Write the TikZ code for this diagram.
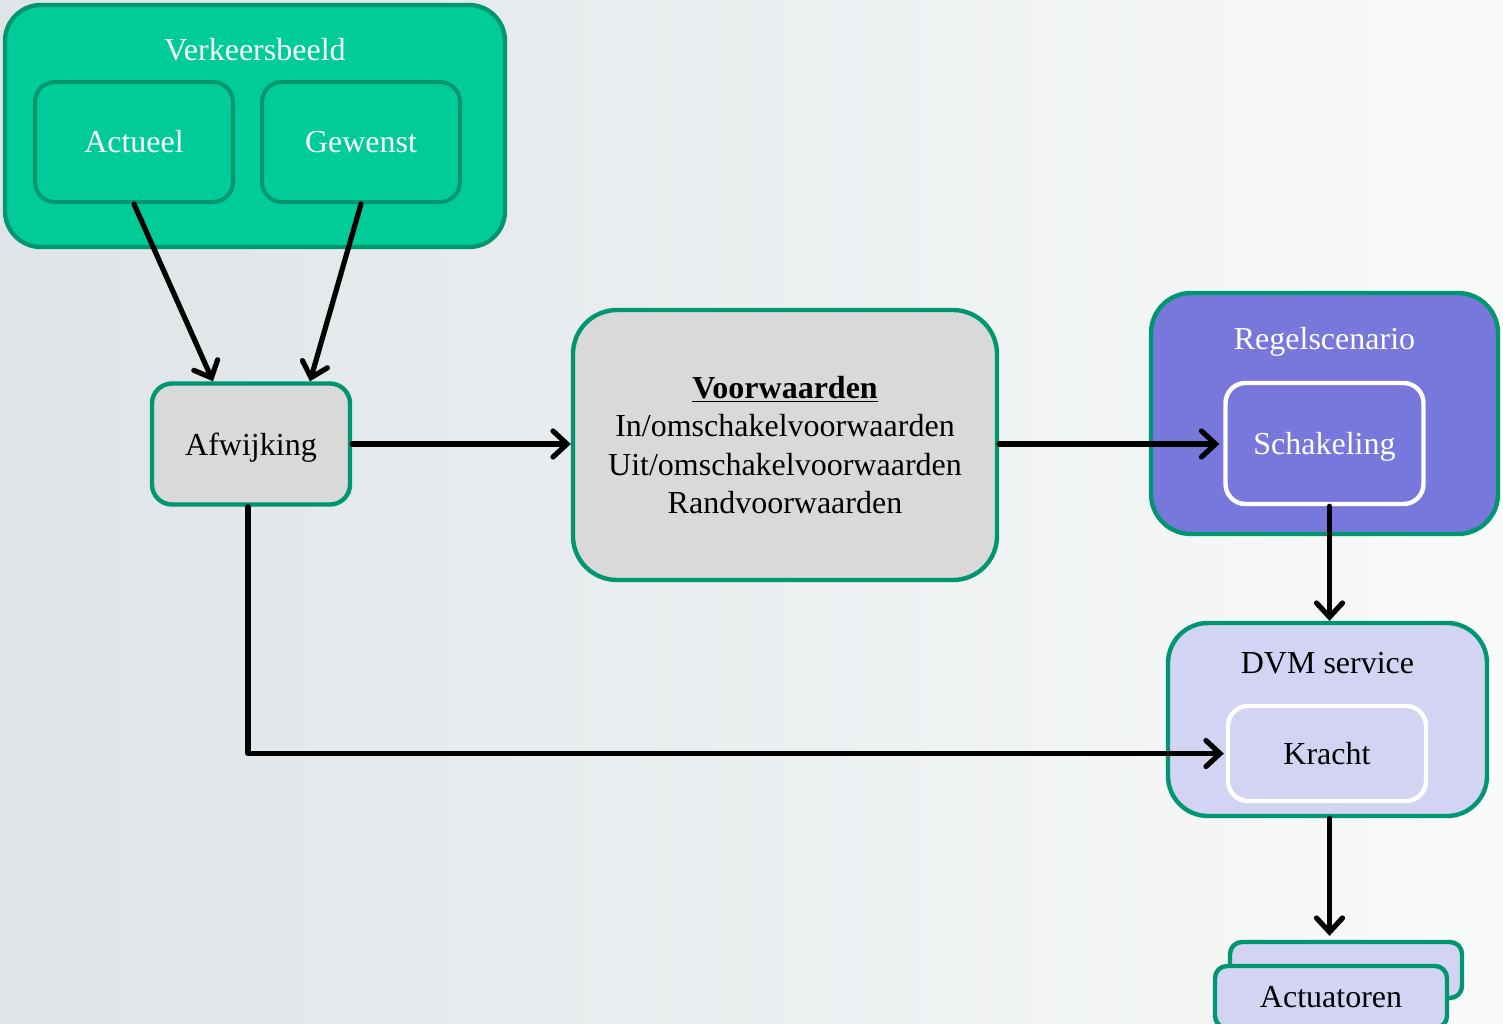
\documentclass[tikz,border=0pt]{standalone}
\usepackage{fontspec}
\setmainfont{Liberation Serif}
\usetikzlibrary{arrows.meta, positioning}
\definecolor{VBgreen}{HTML}{00CC99}
\definecolor{VBedge}{HTML}{009670}
\definecolor{VBgray}{HTML}{D9D9D9}
\definecolor{RSblue}{HTML}{7878DC}
\definecolor{DVMlilac}{HTML}{D3D3F3}
\definecolor{BGleft}{HTML}{DEE4E7}
\definecolor{BGright}{HTML}{F9FAFA}

\begin{document}
\begin{tikzpicture}[x=0.5pt, y=-0.5pt,
        every node/.style={font=\fontsize{16}{19.3}\selectfont},
        box/.style={draw=VBedge, line width=2.2pt, rounded corners=10pt, align=center, inner sep=0pt},
        inbox/.style={box, line width=2pt, minimum width=99pt, minimum height=60pt},
        wbox/.style={box, draw=white, minimum width=99pt},
        flow/.style={line width=2.6pt, line cap=round, line join=round, -{Straight Barb[length=7pt, width=13pt, line cap=round]}}]
    \shade[left color=BGleft, right color=BGright] (0,0) rectangle (1503,1023);
    \useasboundingbox (0,0) rectangle (1503,1023);
    % verkeersbeeld
    \node[box, fill=VBgreen, rounded corners=18pt, minimum width=250pt, minimum height=121pt] (verkeer) at (255,126) {};
    \node[text=white] (verkeerlbl) at (255,50) {Verkeersbeeld};
    \node[inbox, fill=VBgreen, text=white] (actueel) at (134,142) {Actueel};
    \node[inbox, fill=VBgreen, text=white] (gewenst) at (361,142) {Gewenst};
    % afwijking en voorwaarden
    \node[box, fill=VBgray, text depth=0pt, minimum width=99pt, minimum height=60.5pt] (afw) at (251,444) {Afwijking};
    \node[box, fill=VBgray, rounded corners=22pt, minimum width=212pt, minimum height=135pt] (voorw) at (785,445)
        {\textbf{\underline{Voorwaarden}}\\In/omschakelvoorwaarden\\Uit/omschakelvoorwaarden\\Randvoorwaarden};
    % regelscenario
    \node[box, fill=RSblue, rounded corners=20pt, minimum width=173.5pt, minimum height=120.5pt] (regel) at (1324.5,413.5) {};
    \node[text=white, text depth=0pt] (regellbl) at (1324.5,338) {Regelscenario};
    \node[wbox, fill=RSblue, text=white, text depth=0pt, minimum height=60.5pt] (schak) at (1324.5,443.5) {Schakeling};
    % DVM service
    \node[box, fill=DVMlilac, rounded corners=20pt, minimum width=159.5pt, minimum height=96.5pt] (dvm) at (1327.5,719.5) {};
    \node (dvmlbl) at (1327.5,663) {DVM service};
    \node[wbox, fill=DVMlilac, minimum height=47.5pt] (kracht) at (1327,753.5) {Kracht};
    % actuatoren
    \node[box, fill=DVMlilac, rounded corners=6pt, minimum width=116pt, minimum height=28pt] (actback) at (1346,970) {};
    \node[box, fill=DVMlilac, rounded corners=6pt, minimum width=116pt, minimum height=31pt] (actfront) at (1331,997) {Actuatoren};

    \draw[flow] (actueel.south) -- ([xshift=-19pt]afw.north);
    \draw[flow] (gewenst.south) -- ([xshift=29.5pt]afw.north);
    \draw[flow] (afw.east) -- (afw.east -| voorw.west);
    \draw[flow] (voorw.east |- afw.east) -- ([xshift=-2pt]afw.east -| schak.west);
    \draw[flow] ([xshift=2.5pt]schak.south) -- ([xshift=2.5pt]schak.south |- dvm.north);
    \draw[flow] ([xshift=-1.5pt]afw.south) |- ([xshift=-1pt]kracht.west);
    \draw[flow] ([xshift=1pt]dvm.south) -- ([xshift=1pt, yshift=2pt]dvm.south |- actback.north);
\end{tikzpicture}
\end{document}
